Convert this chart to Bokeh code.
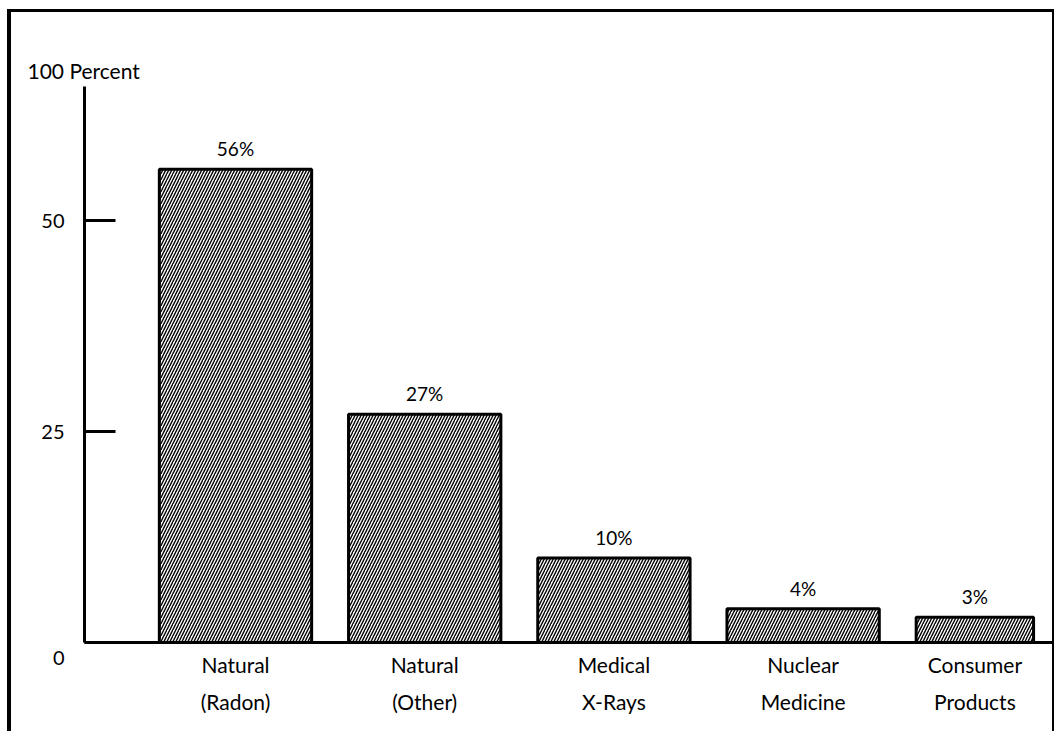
import numpy as np
from bokeh.plotting import figure
from bokeh.models import ColumnDataSource, Range1d, FixedTicker, LabelSet, LinearAxis
from bokeh.core.properties import value
from bokeh.embed import file_html
from bokeh.resources import INLINE

# ---- data ----
category_line1 = ["Natural", "Natural", "Medical", "Nuclear", "Consumer"]
category_line2 = ["(Radon)", "(Other)", "X-Rays", "Medicine", "Products"]
percent_values = [56, 27, 10, 4, 3]
y_tick_values = [0, 25, 50]
y_tick_labels = ["0", "25", "50"]
axis_title = "100 Percent"

# ---- layout / style constants ----
FONT = "Lato"
HALF_W = 0.4025
BAR_RIGHT_LIMIT = 4.218
X_START, X_END = -0.798, 4.318
Y_END = 65.8

x = np.arange(len(percent_values))
left = x - HALF_W
right = np.minimum(x + HALF_W, BAR_RIGHT_LIMIT)
center = [round(float(c), 3) for c in (left + right) / 2]

src = ColumnDataSource(dict(
    left=left, right=right, center=center,
    top=percent_values, bottom=[0] * len(percent_values),
    pct=[f"{v}%" for v in percent_values],
))

p = figure(width=1047, height=722, output_backend="svg", toolbar_location=None,
           x_range=Range1d(X_START, X_END), y_range=Range1d(0, Y_END),
           min_border_left=73, min_border_top=74, min_border_right=6, min_border_bottom=92,
           background_fill_color="white", border_fill_color="white")
p.margin = (9, 0, 0, 7)
p.styles = {"border-left": "4px solid black", "border-top": "3px solid black",
            "border-right": "2px solid black"}
p.outline_line_color = None
p.grid.visible = False

# title: "100 Percent"
p.title.text = axis_title
p.title.align = "left"
p.title.offset = -57
p.title.text_font = FONT
p.title.text_font_size = "21px"
p.title.text_font_style = "normal"
p.title.text_color = "black"
p.title.vertical_align = "bottom"
p.title.standoff = 8

p.quad(left="left", right="right", top="top", bottom="bottom", source=src,
       fill_color="white", line_color="black", line_width=3,
       hatch_pattern="/", hatch_color="black", hatch_scale=6, hatch_weight=1.4)

# y axis
ya = p.yaxis[0]
ya.ticker = FixedTicker(ticks=y_tick_values)
ya.major_label_overrides = {v: ("\n" + l if v == 0 else l) for v, l in zip(y_tick_values, y_tick_labels)}
ya.axis_line_width = 3
ya.major_tick_line_width = 3
ya.major_tick_in = 31
ya.major_tick_out = 0
ya.minor_tick_line_color = None
ya.major_label_standoff = 20
ya.major_label_text_font = FONT
ya.major_label_text_font_size = "20px"
ya.major_label_text_color = "black"

# x axis: baseline + first line of category labels
xa = p.xaxis[0]
xa.ticker = FixedTicker(ticks=center)
xa.major_label_overrides = dict(zip(center, category_line1))
xa.axis_line_width = 3
xa.major_tick_line_color = None
xa.major_tick_in = 0
xa.major_tick_out = 0
xa.minor_tick_line_color = None
xa.major_label_standoff = 9
xa.major_label_text_font = FONT
xa.major_label_text_font_size = "21px"
xa.major_label_text_color = "black"

# second x axis: second line of category labels
xa2 = LinearAxis(ticker=FixedTicker(ticks=center),
                 major_label_overrides=dict(zip(center, category_line2)),
                 axis_line_color=None, major_tick_line_color=None,
                 minor_tick_line_color=None, major_tick_in=0, major_tick_out=0,
                 major_label_standoff=9,
                 major_label_text_font=FONT, major_label_text_font_size="21px",
                 major_label_text_color="black")
p.add_layout(xa2, "below")

# percentage labels above bars
p.add_layout(LabelSet(x="center", y="top", text="pct", source=src, y_offset=13,
                      text_align="center", text_baseline="alphabetic",
                      text_font=value(FONT), text_font_size=value("19px"),
                      text_color="black"))

open("out.html", "w").write(file_html(p, INLINE))
